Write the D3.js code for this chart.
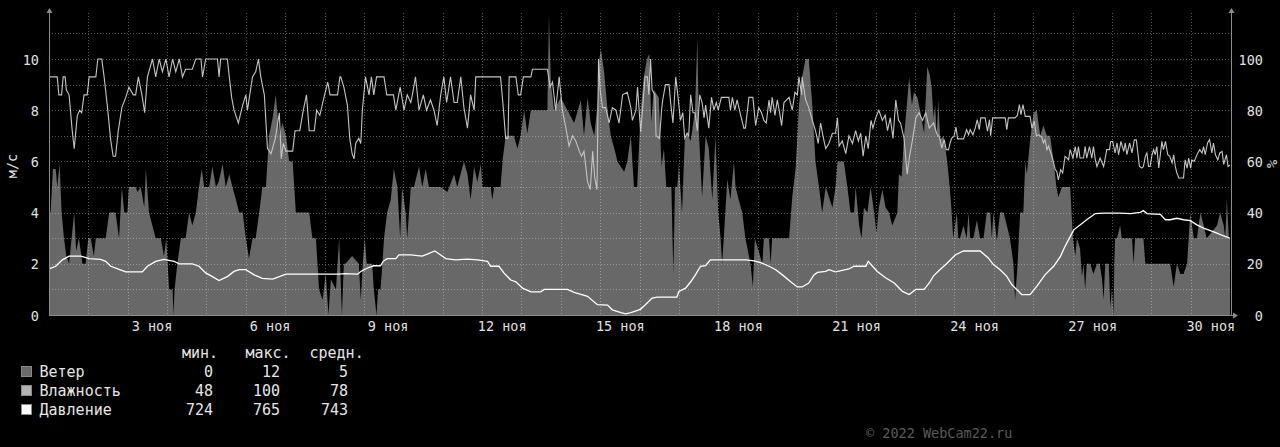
<!DOCTYPE html>
<html><head><meta charset="utf-8">
<script src="https://cdn.jsdelivr.net/npm/d3@7"></script>
<style>
body{margin:0;background:#000;}
svg{display:block;}
text{font-family:"DejaVu Sans Mono",monospace;white-space:pre;}
</style></head><body>
<svg id="chart" width="1280" height="447"></svg>
<script>
// ---- data (x = days since 1 Nov 00:00) ----
const windData = [[0,4.0],[0.04,4.0],[0.10,5.7],[0.17,5.7],[0.21,5.0],[0.27,5.9],[0.32,4.0],[0.38,3.0],[0.44,2.3],[0.51,2.0],[0.64,4.0],[0.69,2.5],[0.76,3.0],[0.85,2.0],[0.93,2.0],[1.0,3.0],[1.06,3.0],[1.14,2.3],[1.19,3.0],[1.44,3.0],[1.53,4.0],[1.69,4.0],[1.78,3.0],[1.85,5.0],[1.91,4.0],[1.99,4.0],[2.03,5.0],[2.20,5.0],[2.25,4.8],[2.33,5.0],[2.42,4.2],[2.46,5.7],[2.54,4.0],[2.71,3.0],[2.84,3.0],[2.92,2.3],[2.98,3.0],[3.05,1.0],[3.14,1.0],[3.16,0],[3.19,1.0],[3.26,2.0],[3.35,3.0],[3.47,3.0],[3.56,4.0],[3.64,3.5],[3.73,4.0],[3.81,5.0],[3.88,5.7],[3.94,5.0],[4.07,5.0],[4.15,5.8],[4.24,5.0],[4.31,5.2],[4.41,5.9],[4.49,5.0],[4.58,5.5],[4.66,5.0],[4.75,4.5],[4.83,4.0],[4.92,4.0],[5.0,3.0],[5.08,2.2],[5.17,3.0],[5.25,3.0],[5.34,4.0],[5.42,5.0],[5.51,5.0],[5.55,6.0],[5.59,7.0],[5.68,7.7],[5.76,8.6],[5.85,7.0],[5.93,7.5],[6.02,7.0],[6.10,6.0],[6.19,6.0],[6.27,4.0],[6.61,4.0],[6.69,3.0],[6.78,3.0],[6.86,1.0],[6.95,0.6],[7.03,1.6],[7.10,0],[7.16,1.4],[7.29,1.0],[7.37,3.0],[7.44,0],[7.49,2.0],[7.53,2.0],[7.70,2.3],[7.87,2.0],[7.92,0.6],[7.97,2.0],[8.02,3.0],[8.07,2.0],[8.21,2.0],[8.25,1.0],[8.32,0],[8.36,1.0],[8.42,1.0],[8.47,2.0],[8.51,3.0],[8.59,4.0],[8.68,4.5],[8.76,5.7],[8.85,5.0],[8.92,3.0],[8.97,5.0],[9.06,4.0],[9.10,3.0],[9.19,5.0],[9.27,5.0],[9.40,5.8],[9.48,5.0],[9.57,5.7],[9.65,5.0],[9.95,5.0],[10.12,4.8],[10.29,5.5],[10.37,5.0],[10.54,6.0],[10.63,5.5],[10.71,4.5],[10.80,5.8],[10.88,5.2],[10.97,5.9],[11.01,5.0],[11.22,5.0],[11.26,4.5],[11.31,5.0],[11.47,5.0],[11.52,6.0],[11.60,7.0],[11.81,7.0],[11.90,6.5],[11.98,7.0],[12.07,8.0],[12.15,7.1],[12.24,8.0],[12.66,8.0],[12.70,11.7],[12.75,9.0],[12.83,8.0],[13.0,8.5],[13.17,8.0],[13.34,7.5],[13.51,8.4],[13.59,7.0],[13.68,8.5],[13.76,7.5],[13.85,7.0],[13.93,8.2],[13.98,10.0],[14.02,10.4],[14.10,9.5],[14.19,8.0],[14.27,7.0],[14.36,6.5],[14.44,6.0],[14.61,5.6],[14.69,6.0],[14.78,7.0],[14.86,5.0],[14.94,5.0],[15.03,8.0],[15.11,9.3],[15.19,10.0],[15.25,10.2],[15.30,7.5],[15.36,8.8],[15.49,8.5],[15.56,5.8],[15.62,6.5],[15.68,5.0],[15.81,5.0],[15.86,1.6],[15.90,5.0],[15.96,5.0],[16.0,5.9],[16.08,4.0],[16.15,6.8],[16.21,7.1],[16.30,6.8],[16.41,8.0],[16.47,10.8],[16.51,7.1],[16.59,4.6],[16.68,7.0],[16.76,6.5],[16.85,4.5],[16.93,7.0],[17.0,4.0],[17.06,3.0],[17.10,2.0],[17.14,3.0],[17.23,5.3],[17.31,4.5],[17.40,6.0],[17.44,5.0],[17.52,4.5],[17.61,4.0],[17.69,3.0],[17.82,2.0],[17.88,1.1],[17.93,3.0],[18.12,2.0],[18.16,3.0],[18.29,3.0],[18.33,2.0],[18.37,3.0],[18.80,3.0],[18.88,4.6],[18.97,5.8],[19.05,8.2],[19.13,9.3],[19.22,10.0],[19.30,10.0],[19.39,8.2],[19.47,6.0],[19.56,5.0],[19.64,4.0],[19.73,5.0],[19.90,4.2],[19.98,5.0],[20.03,6.0],[20.19,6.0],[20.28,5.0],[20.36,4.0],[20.45,4.0],[20.49,5.0],[20.58,3.5],[20.64,3.0],[20.70,4.2],[20.79,4.0],[20.87,5.0],[20.96,4.0],[21.02,3.2],[21.08,4.2],[21.17,4.9],[21.25,4.2],[21.34,4.0],[21.42,3.5],[21.55,4.0],[21.59,5.5],[21.66,5.4],[21.72,7.0],[21.78,8.0],[21.85,9.3],[21.92,8.2],[21.97,8.7],[22.06,8.5],[22.14,7.9],[22.23,7.1],[22.31,9.7],[22.37,9.4],[22.42,8.9],[22.47,7.7],[22.51,8.2],[22.55,7.0],[22.59,8.4],[22.64,6.85],[22.72,7.0],[22.80,6.2],[22.85,5.5],[22.89,4.8],[22.93,4.0],[22.97,3.0],[23.06,4.0],[23.10,3.0],[23.14,3.0],[23.23,3.5],[23.31,3.0],[23.36,4.0],[23.40,3.0],[23.48,3.0],[23.57,3.7],[23.65,3.0],[23.74,3.0],[23.82,4.0],[23.91,4.0],[23.95,3.0],[23.99,4.0],[24.08,2.9],[24.16,4.0],[24.25,4.0],[24.41,3.0],[24.50,2.0],[24.54,0.6],[24.60,1.9],[24.67,4.0],[24.75,4.0],[24.80,6.0],[24.84,5.5],[24.92,6.8],[25.01,7.9],[25.09,8.0],[25.18,7.0],[25.26,7.4],[25.35,7.0],[25.43,7.0],[25.52,6.0],[25.59,5.0],[25.64,4.6],[25.73,5.0],[25.94,5.0],[26.01,3.0],[26.07,2.3],[26.11,3.0],[26.19,2.6],[26.24,1.5],[26.28,2.0],[26.32,1.0],[26.36,2.0],[26.45,2.0],[26.53,1.6],[26.62,2.0],[26.69,2.0],[26.75,1.4],[26.79,0.6],[26.83,2.0],[26.92,2.0],[26.96,0.3],[27.0,1.0],[27.04,0],[27.06,2.0],[27.08,3.0],[27.13,3.0],[27.21,3.5],[27.25,3.0],[27.51,3.0],[27.55,2.0],[27.59,3.0],[27.80,3.0],[27.85,2.0],[28.48,2.0],[28.57,1.1],[28.65,2.0],[28.74,1.6],[28.82,1.6],[28.91,2.0],[28.95,3.0],[28.99,4.0],[29.08,3.0],[29.16,3.0],[29.25,4.0],[29.33,3.5],[29.41,3.0],[29.67,3.5],[29.75,4.0],[29.84,3.5],[29.88,3.0],[29.92,4.5],[29.97,3.0],[30.0,3.0]];

const humidityData = [[0,93],[0.21,93],[0.25,86],[0.32,86],[0.36,93],[0.41,93],[0.44,88],[0.51,86],[0.59,72],[0.64,65],[0.72,78],[0.78,80],[0.83,79],[0.89,86],[0.97,86],[1.02,93],[1.19,93],[1.24,100],[1.34,100],[1.40,93],[1.48,82],[1.57,68],[1.63,62],[1.69,62],[1.76,72],[1.85,81],[1.95,85],[2.03,89],[2.14,86],[2.20,86],[2.27,93],[2.36,86],[2.43,79],[2.50,93],[2.63,100],[2.71,93],[2.80,100],[2.88,95],[2.97,100],[3.05,93],[3.14,100],[3.22,95],[3.31,100],[3.39,93],[3.47,96],[3.64,96],[3.73,100],[3.86,100],[3.90,93],[3.98,100],[4.28,100],[4.32,93],[4.36,100],[4.53,100],[4.58,93],[4.64,85],[4.70,80],[4.81,75],[4.92,82],[5.0,86],[5.04,80],[5.10,86],[5.17,93],[5.25,95],[5.32,100],[5.38,93],[5.47,86],[5.55,65],[5.64,63],[5.75,69],[5.85,79],[5.90,61],[5.95,67],[6.02,64],[6.19,64],[6.25,72],[6.37,72],[6.46,80],[6.54,86],[6.61,72],[6.74,72],[6.80,80],[6.88,78],[6.97,84],[7.08,91],[7.14,86],[7.33,86],[7.39,93],[7.41,93],[7.49,89],[7.58,82],[7.64,69],[7.70,63],[7.75,61],[7.79,67],[7.87,69],[7.92,67],[7.96,80],[8.04,93],[8.13,86],[8.19,93],[8.25,86],[8.32,93],[8.51,93],[8.58,86],[8.75,86],[8.81,80],[8.92,89],[9.02,80],[9.10,86],[9.19,83],[9.23,86],[9.31,93],[9.40,80],[9.51,86],[9.59,80],[9.69,84],[9.78,80],[9.86,74],[9.95,86],[10.03,93],[10.10,83],[10.20,93],[10.29,83],[10.37,83],[10.46,93],[10.54,81],[10.63,73],[10.71,86],[10.80,80],[10.84,93],[11.47,93],[11.54,81],[11.60,69],[11.66,69],[11.69,93],[11.86,93],[11.92,86],[11.98,86],[12.05,93],[12.24,93],[12.28,96],[12.66,96],[12.73,89],[12.79,91],[12.87,80],[12.96,93],[13.04,80],[13.13,73],[13.21,66],[13.30,70],[13.38,68],[13.47,64],[13.53,62],[13.59,64],[13.68,52],[13.75,49],[13.81,64],[13.86,54],[13.92,49],[13.96,100],[14.0,88],[14.06,81],[14.14,81],[14.23,75],[14.31,81],[14.40,80],[14.48,75],[14.57,86],[14.69,87],[14.78,81],[14.82,76],[14.91,80],[14.95,89],[15.03,71.5],[15.08,81],[15.14,93],[15.20,93],[15.24,86],[15.28,100],[15.32,88],[15.39,86],[15.42,70],[15.51,69],[15.56,80],[15.59,84],[15.66,90],[15.75,90],[15.79,83],[15.85,75],[15.92,93],[15.98,85],[16.04,76],[16.10,79],[16.15,69],[16.21,71],[16.25,70],[16.30,86],[16.36,79],[16.41,79],[16.47,72],[16.53,86],[16.59,83],[16.64,77],[16.68,82],[16.76,73],[16.83,85],[16.89,80],[16.95,83],[17.0,80],[17.08,85],[17.27,85],[17.31,80],[17.36,85],[17.42,80],[17.48,84],[17.57,78],[17.65,73],[17.69,73],[17.78,85],[17.88,85],[17.95,74],[18.03,81],[18.10,79],[18.16,76],[18.22,75],[18.29,84],[18.33,79],[18.37,85],[18.44,78],[18.50,84],[18.56,79],[18.61,74],[18.67,83],[18.80,85],[18.88,80],[18.95,87],[19.01,86],[19.05,93],[19.12,86],[19.13,93],[19.22,84],[19.30,81],[19.39,76],[19.47,72],[19.54,67],[19.60,75],[19.66,70],[19.73,65],[19.81,67],[19.90,71],[19.98,71],[20.03,77],[20.07,66],[20.15,68],[20.24,63],[20.32,70],[20.41,67],[20.49,72],[20.56,68],[20.62,71],[20.68,62],[20.75,70],[20.81,65],[20.88,76],[20.93,73],[21.0,77],[21.08,80],[21.17,76],[21.24,78],[21.30,72],[21.37,77],[21.44,69],[21.51,84],[21.58,76],[21.63,75],[21.72,69],[21.80,55],[21.86,62],[21.93,68],[22.02,77],[22.10,79],[22.19,76],[22.27,79],[22.36,73],[22.47,75],[22.55,70.8],[22.62,69.5],[22.68,65.2],[22.74,68.5],[22.79,64.6],[22.85,64.6],[22.89,67.2],[22.93,69],[22.99,69.8],[23.04,73.4],[23.08,68.8],[23.23,68.8],[23.31,72.4],[23.36,70.4],[23.40,72.4],[23.47,70.4],[23.53,73.1],[23.58,76.3],[23.63,72.4],[23.67,77],[23.78,77],[23.84,71.8],[23.89,76.3],[23.92,70],[23.97,77],[24.29,77],[24.33,72.4],[24.37,77],[24.54,77],[24.60,78],[24.65,82.2],[24.69,78.3],[24.74,82.2],[24.80,77.6],[24.92,77.6],[24.97,73],[25.03,75.7],[25.08,70],[25.14,70.4],[25.22,69.5],[25.26,67.2],[25.30,68.5],[25.35,64.6],[25.39,66],[25.45,63.3],[25.50,60.6],[25.56,56.8],[25.60,56.1],[25.64,52.8],[25.70,56.8],[25.75,55.5],[25.81,62],[25.86,61.3],[25.90,60.6],[25.94,64.6],[26.01,61.3],[26.07,65.8],[26.11,61.3],[26.15,65.8],[26.19,61.3],[26.28,61.3],[26.32,65.8],[26.36,61.3],[26.43,65.8],[26.49,61.3],[26.53,65.8],[26.58,60.6],[26.62,58],[26.70,61.3],[26.79,58],[26.87,64.6],[26.94,64.6],[26.97,67.8],[27.02,67.8],[27.08,63.3],[27.13,67.2],[27.17,62.6],[27.23,67.8],[27.30,63.9],[27.34,67.2],[27.38,62.6],[27.45,67.2],[27.51,63.3],[27.57,68.4],[27.62,68.4],[27.65,64.6],[27.70,58],[27.76,57.4],[27.80,58],[27.85,62],[27.89,63.3],[27.93,58],[27.97,58],[28.02,62.6],[28.06,64.6],[28.10,62.6],[28.14,65.8],[28.19,57.4],[28.23,62.6],[28.27,67.8],[28.31,64.6],[28.36,67.8],[28.42,62.6],[28.47,62],[28.53,59.4],[28.57,62.6],[28.61,58],[28.65,55.5],[28.70,53.5],[28.82,53.5],[28.86,60.6],[28.91,57.4],[28.95,61.3],[29.0,57.4],[29.03,60.6],[29.09,60],[29.16,62.6],[29.23,64.6],[29.29,63.3],[29.33,65.8],[29.37,62.6],[29.43,67.2],[29.48,68.5],[29.54,63.3],[29.58,67.2],[29.63,62.6],[29.69,60.6],[29.74,63.3],[29.80,63.9],[29.84,58.8],[29.91,62.6],[29.95,58],[30.0,58.6]];

const pressureData = [[0,741.9],[0.17,743.0],[0.34,745.6],[0.51,747.1],[0.81,747.1],[1.02,746.1],[1.31,745.8],[1.44,745.0],[1.57,743.0],[1.78,741.7],[1.95,740.7],[2.37,740.7],[2.50,743.0],[2.71,745.0],[2.92,745.8],[3.18,745.0],[3.31,744.0],[3.64,744.0],[3.81,743.0],[3.98,740.3],[4.15,738.8],[4.32,737.2],[4.53,738.8],[4.70,740.9],[4.83,741.6],[5.0,741.6],[5.21,739.5],[5.42,738.1],[5.68,737.8],[5.85,738.8],[6.02,739.8],[7.37,739.8],[7.5,740.0],[7.84,739.8],[7.92,740.9],[8.08,742.2],[8.25,743.2],[8.42,743.2],[8.49,745.0],[8.59,746.1],[8.81,746.1],[8.89,747.6],[9.19,747.6],[9.48,747.1],[9.61,747.9],[9.80,749.2],[9.95,747.6],[10.08,746.1],[10.33,745.6],[10.63,745.9],[10.88,745.6],[11.14,745.0],[11.22,743.0],[11.43,743.0],[11.56,740.2],[11.73,737.4],[11.86,736.7],[12.03,734.1],[12.24,732.6],[12.49,732.6],[12.58,733.6],[13.17,733.6],[13.34,732.4],[13.68,730.8],[13.93,727.4],[14.19,727.2],[14.31,725.3],[14.53,724.2],[14.65,723.7],[14.78,724.2],[14.95,725.1],[15.03,725.6],[15.15,727.4],[15.32,730.1],[15.45,730.5],[15.95,730.5],[16.0,732.8],[16.17,734.1],[16.30,736.7],[16.42,739.5],[16.55,743.0],[16.68,743.3],[16.80,745.6],[17.70,745.6],[17.91,745.2],[18.08,744.5],[18.29,743.0],[18.46,741.6],[18.63,739.5],[18.84,736.7],[19.01,734.6],[19.13,734.6],[19.30,736.2],[19.43,739.5],[19.52,740.5],[19.73,740.9],[19.81,741.6],[19.98,740.7],[20.32,741.9],[20.45,743.0],[20.75,743.0],[20.81,745.0],[20.92,743.0],[21.04,740.9],[21.25,738.3],[21.47,736.2],[21.68,732.8],[21.85,731.5],[22.02,733.6],[22.23,733.6],[22.36,736.2],[22.47,739.1],[22.63,741.6],[22.80,744.0],[23.02,747.6],[23.23,749.2],[23.65,749.2],[23.86,746.4],[23.99,743.7],[24.16,741.6],[24.33,738.9],[24.46,735.5],[24.58,733.6],[24.71,731.5],[24.92,731.5],[25.09,734.8],[25.30,739.5],[25.52,743.0],[25.69,746.9],[25.81,751.1],[26.03,757.8],[26.19,759.8],[26.36,761.9],[26.58,764.4],[26.79,764.6],[27.21,764.6],[27.47,764.4],[27.72,764.9],[27.80,765.6],[27.89,764.4],[28.23,764.1],[28.36,761.9],[28.48,761.9],[28.65,762.5],[28.82,761.9],[28.99,761.5],[29.16,759.8],[29.33,758.5],[29.50,757.5],[29.67,756.5],[29.84,755.3],[30.0,754.4]];

const dayTickLabels = [3,6,9,12,15,18,21,24,27,30];
const leftTicks = [0,2,4,6,8,10];
const rightTicks = [0,20,40,60,80,100];
const legendNames = ["Ветер","Влажность","Давление"];
const legendColors = ["#6a6a6a","#b4b4b4","#ffffff"];
const legendMin = [0,48,724];
const legendMax = [12,100,765];
const legendAvg = [5,78,743];
const legendHeaders = ["мин.","макс.","средн."];

// ---- scales ----
const L = 49, R = 1230, B = 315, T = 13;
const x = d3.scaleLinear().domain([0,30]).range([L,R]);
const y = d3.scaleLinear().domain([0,10]).range([B,59]);
const yH = d3.scaleLinear().domain([0,100]).range([B,59]);
const yP = d3.scaleLinear().domain([723.2,775.2]).range([y(0),y(5)]);

const svg = d3.select("#chart");
svg.append("rect").attr("width",1280).attr("height",447).attr("fill","#000");
svg.append("defs").append("clipPath").attr("id","clip")
  .append("rect").attr("x",L).attr("y",T).attr("width",R-L).attr("height",B-T);

const plot = svg.append("g").attr("clip-path","url(#clip)");

// wind area
plot.append("path").datum(windData)
  .attr("fill","#686868")
  .attr("d", d3.area().x(d=>x(d[0])).y0(y(0)).y1(d=>y(d[1])));

// grid
const grid = svg.append("g").attr("stroke","rgba(255,255,255,0.33)").attr("stroke-dasharray","1,2").attr("shape-rendering","crispEdges");
grid.selectAll("line.v").data(d3.range(1,30)).join("line")
  .attr("x1",d=>Math.round(x(d))+0.5).attr("x2",d=>Math.round(x(d))+0.5)
  .attr("y1",T).attr("y2",B);
grid.selectAll("line.h").data(d3.range(1,12)).join("line")
  .attr("x1",L).attr("x2",R)
  .attr("y1",d=>Math.round(y(d))+0.5).attr("y2",d=>Math.round(y(d))+0.5);

// humidity line
plot.append("path").datum(humidityData)
  .attr("fill","none").attr("stroke","#c4c4c4").attr("stroke-width",1.1)
  .attr("d", d3.line().x(d=>x(d[0])).y(d=>yH(d[1])));

// pressure line
plot.append("path").datum(pressureData)
  .attr("fill","none").attr("stroke","#ffffff").attr("stroke-width",1.3)
  .attr("d", d3.line().x(d=>x(d[0])).y(d=>yP(d[1])));

// axes
const axisColor = "#8c8c8c";
const xAxis = svg.append("g").attr("transform",`translate(0,${B})`)
  .call(d3.axisBottom(x).tickValues(dayTickLabels.map(d=>d-0.5))
    .tickFormat((v,i)=>(dayTickLabels[i]<10?" ":"")+dayTickLabels[i]+" ноя").tickSize(0));
xAxis.select(".domain").remove();
xAxis.selectAll("text").attr("y",16).attr("dy",0).attr("fill","#e0e0e0").attr("font-size","13.5px");

const yAxisL = svg.append("g").attr("transform",`translate(${L},0)`)
  .call(d3.axisLeft(y).tickValues(leftTicks).tickSize(0).tickPadding(10));
yAxisL.select(".domain").remove();
yAxisL.selectAll("text").attr("dy","0.37em").attr("fill","#e0e0e0").attr("font-size","13.5px");

const yAxisR = svg.append("g").attr("transform",`translate(${R+1},0)`)
  .call(d3.axisRight(yH).tickValues(rightTicks).tickSize(0));
yAxisR.select(".domain").remove();
yAxisR.selectAll("text").attr("x",32).attr("text-anchor","end").attr("dy","0.37em").attr("fill","#e0e0e0").attr("font-size","13.5px");

// axis lines + arrows
const ax = svg.append("g").attr("stroke",axisColor).attr("shape-rendering","crispEdges");
ax.append("line").attr("x1",L+0.5).attr("x2",L+0.5).attr("y1",B).attr("y2",11);
ax.append("line").attr("x1",R+1.5).attr("x2",R+1.5).attr("y1",B).attr("y2",11);
ax.append("line").attr("x1",L).attr("x2",R+4).attr("y1",B+0.5).attr("y2",B+0.5);
svg.append("path").attr("fill",axisColor).attr("d",`M${L-2.5},13 L${L+3.5},13 L${L+0.5},8 Z`);
svg.append("path").attr("fill",axisColor).attr("d",`M${R-1.5},13 L${R+4.5},13 L${R+1.5},8 Z`);
svg.append("path").attr("fill",axisColor).attr("d",`M${R+3},${B-2.5} L${R+3},${B+3.5} L${R+8},${B+0.5} Z`);

// axis titles
svg.append("text").attr("transform","translate(17,166) rotate(-90)").attr("text-anchor","middle")
  .attr("fill","#e0e0e0").attr("font-size","13.5px").text("м/с");
svg.append("text").attr("transform","translate(1277,164) rotate(-90)").attr("text-anchor","middle")
  .attr("fill","#e0e0e0").attr("font-size","13.5px").text("%");

// legend
const lg = svg.append("g").attr("font-size","15px").attr("fill","#e6e6e6");
const hdrX = [182,245.5,309.5];
lg.selectAll("text.h").data(legendHeaders).join("text").attr("class","h")
  .attr("x",(d,i)=>hdrX[i]).attr("y",358).text(d=>d);
const rowY = [377,396,415];
lg.selectAll("rect").data(legendNames).join("rect")
  .attr("x",21.5).attr("y",(d,i)=>rowY[i]-10.5).attr("width",10).attr("height",10)
  .attr("fill",(d,i)=>legendColors[i]).attr("stroke","#8a8a8a").attr("stroke-width",1);
lg.selectAll("text.n").data(legendNames).join("text").attr("class","n")
  .attr("x",39.5).attr("y",(d,i)=>rowY[i]).text(d=>d);
const colX = [213,280,348];
[legendMin,legendMax,legendAvg].forEach((arr,c)=>{
  lg.selectAll("text.c"+c).data(arr).join("text").attr("class","c"+c)
    .attr("x",colX[c]).attr("y",(d,i)=>rowY[i]).attr("text-anchor","end").text(d=>d);
});

// copyright
svg.append("text").attr("x",866).attr("y",437.5).attr("fill","#5a5a5a").attr("font-size","13.5px")
  .text("© 2022 WebCam22.ru");
</script>
</body></html>
